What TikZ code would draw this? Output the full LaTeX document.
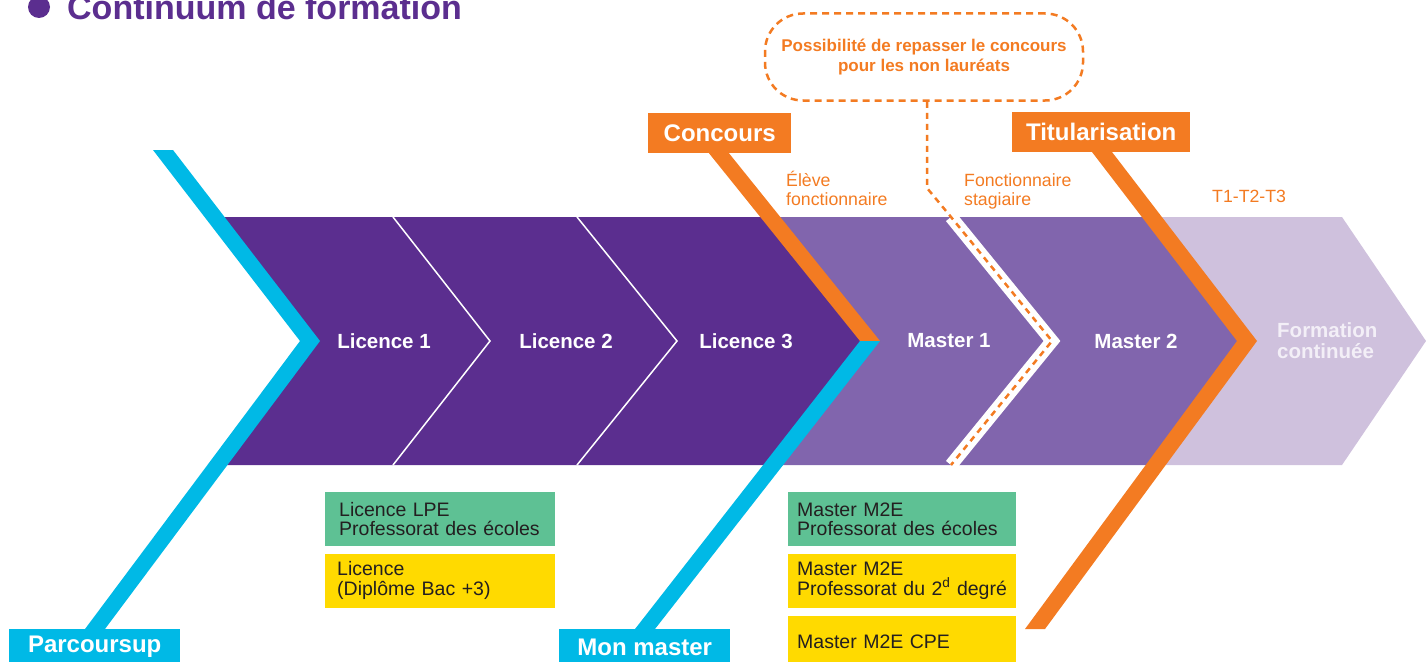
\documentclass[tikz,border=0pt]{standalone}
\usepackage{fontspec}
\setmainfont{Liberation Sans}
\usepackage{xcolor}
\usetikzlibrary{positioning}

\definecolor{violetfonce}{HTML}{5B2E8F}
\definecolor{violetmoyen}{HTML}{8165AD}
\definecolor{lavande}{HTML}{CFC1DD}
\definecolor{cyanvif}{HTML}{00B9E6}
\definecolor{orangevif}{HTML}{F37B22}
\definecolor{vertmenthe}{HTML}{5EC194}
\definecolor{jaunevif}{HTML}{FFDA00}
\definecolor{encre}{HTML}{231F20}

\begin{document}
\begin{tikzpicture}[x=1pt, y=-1pt,
  node distance=7pt,
  tag/.style={inner sep=0pt, minimum height=40pt, text=white, font=\bfseries\fontsize{24}{26}\selectfont},
  etape/.style={text=white, inner sep=0pt, font=\bfseries\fontsize{20.5}{22}\selectfont},
  statut/.style={text=orangevif, align=left, inner sep=0pt, anchor=base west, font=\fontsize{17.7}{18.5}\selectfont},
  option/.style={anchor=north west, minimum height=54pt, inner ysep=0pt, align=left, text=encre, font=\fontsize{19.5}{19.5}\selectfont},
  filet/.style={white, line width=1.5pt},
  pointille/.style={orangevif, line width=2.5pt, dash pattern=on 6pt off 5pt}
]
  \useasboundingbox (0,0) rectangle (1426,661);

  % titre
  \fill[violetfonce] (39,7) circle (11pt);
  \node[anchor=base west, inner sep=0pt, text=violetfonce, font=\bfseries\fontsize{34}{36}\selectfont] (titre) at (67,20) {Continuum de formation};

  % bandeau
  \fill[lavande] (1150,217) -- (1342,217) -- (1426,341) -- (1342,465) -- (1150,465) -- cycle;
  \fill[violetmoyen] (765,217) -- (1152,217) -- (1250,341) -- (1155,465) -- (765,465) -- cycle;
  \fill[violetfonce] (224,217) -- (770,217) -- (870,341) -- (773,465) -- (226,465) -- (312,341) -- cycle;

  \coordinate (l1haut) at (393,217);
  \coordinate (l1pointe) at (490,341);
  \coordinate (l1bas) at (393,465);
  \coordinate (l2haut) at (577,217);
  \coordinate (l2pointe) at (677,341);
  \coordinate (l2bas) at (577,465);
  \coordinate (sephaut) at (951,217);
  \coordinate (seppointe) at (1052,341);
  \coordinate (sepbas) at (951,465);
  \coordinate (coude) at (927,188);

  \draw[filet] (l1haut) -- (l1pointe) -- (l1bas);
  \draw[filet] (l2haut) -- (l2pointe) -- (l2bas);
  \draw[white, line width=13pt] (sephaut) -- (seppointe) -- (sepbas);

  % chevrons
  \fill[cyanvif] (153,150) -- (173,150) -- (320,341) -- (105,629) -- (85,629) -- (300,341) -- cycle;
  \fill[orangevif] (708,152) -- (728,152) -- (880,341) -- (860,341) -- cycle;
  \fill[cyanvif] (860,341) -- (880,341) -- (655,629) -- (635,629) -- cycle;
  \fill[orangevif] (1092,152) -- (1112,152) -- (1257,341) -- (1045,629) -- (1025,629) -- (1237,341) -- cycle;

  % etapes
  \node[etape] (licence1) at (384,341) {Licence 1};
  \node[etape] (licence2) at (566,341) {Licence 2};
  \node[etape] (licence3) at (746,341) {Licence 3};
  \node[etape] (master1) at (949,341) {Master 1};
  \node[etape] (master2) at (1136,341) {Master 2};
  \node[etape, anchor=west, align=left, text=lavande!25, font=\bfseries\fontsize{20.5}{21}\selectfont] (continue) at (1277,341) {Formation\\continuée};

  % reperes
  \node[tag, fill=orangevif, minimum width=143pt, anchor=north west] (concours) at (648,113) {Concours};
  \node[tag, fill=orangevif, minimum width=178pt, anchor=north west] (titularisation) at (1012,112) {Titularisation};
  \node[tag, fill=cyanvif, minimum width=171pt, minimum height=36pt, anchor=north west] (parcoursup) at (9,629) {Parcoursup};
  \node[tag, fill=cyanvif, minimum width=171pt, minimum height=36pt, anchor=north west] (monmaster) at (559,629) {Mon master};

  \node[statut] (eleve) at (786,205) {Élève\\fonctionnaire};
  \node[statut] (stagiaire) at (964,205) {Fonctionnaire\\stagiaire};
  \node[statut] (tniveaux) at (1212,202) {T1-T2-T3};

  % rattrapage
  \node[draw=orangevif, line width=2.5pt, dash pattern=on 7pt off 5pt, rounded corners=38pt,
        minimum width=318pt, minimum height=87pt, align=center, text=orangevif,
        font=\bfseries\fontsize{17}{20}\selectfont] (rattrapage) at (924,57)
        {Possibilité de repasser le concours\\pour les non lauréats};
  \draw[pointille] (coude |- rattrapage.south) -- (coude) -- (sephaut) -- (seppointe) -- (sepbas);

  % diplomes
  \node[option, fill=vertmenthe, text width=202pt, inner xsep=14pt] (lpe) at (325,492) {Licence LPE\\Professorat des écoles};
  \node[option, fill=jaunevif, text width=206pt, inner xsep=12pt, below=7pt of lpe] (licence) {Licence\\(Diplôme Bac +3)};
  \node[option, fill=vertmenthe, text width=210pt, inner xsep=9pt] (m2epe) at (788,492) {Master M2E\\Professorat des écoles};
  \node[option, fill=jaunevif, text width=210pt, inner xsep=9pt, below=7pt of m2epe] (m2esd) {Master M2E\\Professorat du 2\textsuperscript{d} degré};
  \node[option, fill=jaunevif, text width=210pt, inner xsep=9pt, minimum height=52pt, below=8pt of m2esd] (m2ecpe) {Master M2E CPE};
\end{tikzpicture}
\end{document}
